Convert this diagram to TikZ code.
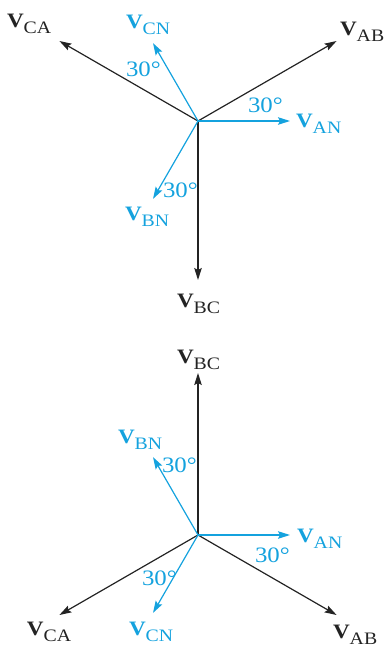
\documentclass[tikz,border=0pt]{standalone}
\usepackage{fontspec}
\setmainfont{Liberation Serif}
\newfontfamily\lblfont[FakeStretch=1.13]{Liberation Serif}
\usetikzlibrary{arrows.meta}
\definecolor{phcyan}{RGB}{20,162,222}
\definecolor{linegray}{RGB}{35,35,35}
\newcommand{\phv}[1]{{\lblfont\fontsize{20.5}{20}\selectfont\bfseries V}\raisebox{-6.5pt}{\lblfont\fontsize{17.5}{17}\selectfont #1}}
\tikzset{
  vhead/.tip={Stealth[length=12pt,width=7.5pt,inset=2pt]},
  blackvec/.style={draw=linegray, line width=1.2pt, -vhead},
  bluevec/.style={draw=phcyan, line width=1.2pt, -vhead},
  lbl/.style={anchor=base west, inner sep=0pt, outer sep=0pt},
  blacklbl/.style={lbl, text=linegray},
  bluelbl/.style={lbl, text=phcyan},
  anglbl/.style={lbl, text=phcyan, font=\lblfont\fontsize{22}{22}\selectfont}
}
\begin{document}
\begin{tikzpicture}[x=1pt,y=-1pt]
\useasboundingbox (0,0) rectangle (386,648);
% ---------- top diagram ----------
\coordinate (O1) at (198,121);
\coordinate (tAB1) at (336.6,41);
\coordinate (tCA1) at (59.4,41);
\coordinate (tBC1) at (198,280);
\coordinate (tAN1) at (290,121);
\coordinate (tCN1) at (153,43.1);
\coordinate (tBN1) at (153,198.9);
\draw[blackvec] (O1) -- (tAB1);
\draw[blackvec] (O1) -- (tCA1);
\draw[blackvec] (O1) -- (tBC1);
\draw[bluevec] (O1) -- (tAN1);
\draw[bluevec] (O1) -- (tCN1);
\draw[bluevec] (O1) -- (tBN1);
\node[blacklbl] (lCA1) at (7,27) {\phv{CA}};
\node[bluelbl]  (lCN1) at (126,28) {\phv{CN}};
\node[blacklbl] (lAB1) at (340,35) {\phv{AB}};
\node[bluelbl]  (lAN1) at (296,127) {\phv{AN}};
\node[bluelbl]  (lBN1) at (125,220) {\phv{BN}};
\node[blacklbl] (lBC1) at (177,307) {\phv{BC}};
\node[anglbl] (a1) at (126,76) {30°};
\node[anglbl] (a2) at (248,112) {30°};
\node[anglbl] (a3) at (163,197) {30°};
% ---------- bottom diagram ----------
\coordinate (O2) at (198,535);
\coordinate (tAB2) at (336.6,615);
\coordinate (tCA2) at (59.4,615);
\coordinate (tBC2) at (198,373);
\coordinate (tAN2) at (290,535);
\coordinate (tCN2) at (153,612.9);
\coordinate (tBN2) at (153,457.1);
\draw[blackvec] (O2) -- (tAB2);
\draw[blackvec] (O2) -- (tCA2);
\draw[blackvec] (O2) -- (tBC2);
\draw[bluevec] (O2) -- (tAN2);
\draw[bluevec] (O2) -- (tCN2);
\draw[bluevec] (O2) -- (tBN2);
\node[blacklbl] (lBC2) at (177,363) {\phv{BC}};
\node[bluelbl]  (lBN2) at (118,443) {\phv{BN}};
\node[bluelbl]  (lAN2) at (297,542) {\phv{AN}};
\node[blacklbl] (lCA2) at (27,635) {\phv{CA}};
\node[bluelbl]  (lCN2) at (129,635) {\phv{CN}};
\node[blacklbl] (lAB2) at (333,638) {\phv{AB}};
\node[anglbl] (a4) at (162,472) {30°};
\node[anglbl] (a5) at (255,562) {30°};
\node[anglbl] (a6) at (142,585) {30°};
\end{tikzpicture}
\end{document}
